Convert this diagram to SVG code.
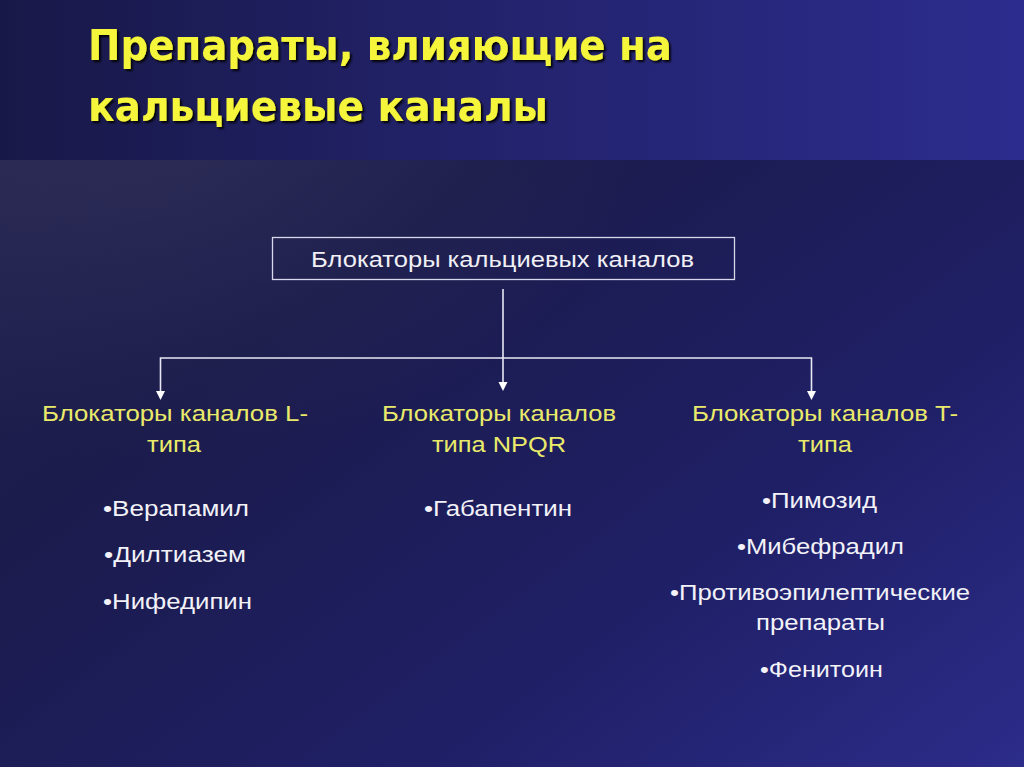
<svg xmlns="http://www.w3.org/2000/svg" width="1024" height="767" viewBox="0 0 1024 767">
<defs>
<linearGradient id="band" x1="0" y1="0" x2="1" y2="0">
<stop offset="0" stop-color="#181848"/>
<stop offset="0.5" stop-color="#23236e"/>
<stop offset="1" stop-color="#2c2c8e"/>
</linearGradient>
<linearGradient id="body" x1="0" y1="0" x2="1" y2="1">
<stop offset="0" stop-color="#262650"/>
<stop offset="0.35" stop-color="#1b1b4c"/>
<stop offset="0.7" stop-color="#1f1f66"/>
<stop offset="1" stop-color="#2c2c8a"/>
</linearGradient>
<radialGradient id="glow" cx="0.15" cy="0.1" r="0.5">
<stop offset="0" stop-color="#3a3a60" stop-opacity="0.5"/>
<stop offset="1" stop-color="#3a3a60" stop-opacity="0"/>
</radialGradient>
<filter id="sh" x="-5%" y="-20%" width="110%" height="140%">
<feDropShadow dx="2" dy="2" stdDeviation="1" flood-color="#000" flood-opacity="0.9"/>
</filter>
</defs>
<style>
.title{font-family:"DejaVu Sans Condensed","DejaVu Sans",sans-serif;font-weight:bold;font-size:43px;fill:#f5f53a;}
.head{font-family:"Liberation Sans",Arial,sans-serif;font-size:22px;fill:#eaea6a;text-anchor:middle;}
.item{font-family:"Liberation Sans",Arial,sans-serif;font-size:22px;fill:#f2f2f8;text-anchor:middle;}
.box{font-family:"Liberation Sans",Arial,sans-serif;font-size:22px;fill:#f0f0f5;text-anchor:middle;}
.ln{stroke:#e8e8f4;stroke-width:1.6;fill:none;}
.ah{fill:#ffffff;}
</style>
<rect x="0" y="0" width="1024" height="767" fill="url(#body)"/>
<rect x="0" y="0" width="1024" height="767" fill="url(#glow)"/>
<rect x="0" y="0" width="1024" height="160" fill="url(#band)"/>
<g id="title" filter="url(#sh)">
<text class="title" x="88" y="60" textLength="584" lengthAdjust="spacingAndGlyphs">Препараты, влияющие на</text>
<text class="title" x="88" y="121" textLength="460" lengthAdjust="spacingAndGlyphs">кальциевые каналы</text>
</g>
<g id="root">
<rect x="272.5" y="237.5" width="462" height="42" fill="none" stroke="#d8d8ec" stroke-width="1.3"/>
<text class="box" x="502.5" y="267" textLength="383" lengthAdjust="spacingAndGlyphs">Блокаторы кальциевых каналов</text>
</g>
<g id="connectors">
<line class="ln" x1="503" y1="289" x2="503" y2="384"/>
<polygon class="ah" points="498.5,382 507.5,382 503,391"/>
<polyline class="ln" points="160.5,393 160.5,358 811.5,358 811.5,393"/>
<polygon class="ah" points="156,391 165,391 160.5,400"/>
<polygon class="ah" points="807,391 816,391 811.5,400"/>
</g>
<g id="l-type">
<text class="head" x="175" y="421" textLength="266" lengthAdjust="spacingAndGlyphs">Блокаторы каналов L-</text>
<text class="head" x="174" y="452" textLength="54" lengthAdjust="spacingAndGlyphs">типа</text>
<text class="item" x="176" y="516" textLength="146" lengthAdjust="spacingAndGlyphs">•Верапамил</text>
<text class="item" x="175" y="562" textLength="142" lengthAdjust="spacingAndGlyphs">•Дилтиазем</text>
<text class="item" x="177.5" y="609" textLength="149" lengthAdjust="spacingAndGlyphs">•Нифедипин</text>
</g>
<g id="npqr-type">
<text class="head" x="499" y="421" textLength="234" lengthAdjust="spacingAndGlyphs">Блокаторы каналов</text>
<text class="head" x="499" y="452" textLength="134" lengthAdjust="spacingAndGlyphs">типа NPQR</text>
<text class="item" x="498" y="516" textLength="148" lengthAdjust="spacingAndGlyphs">•Габапентин</text>
</g>
<g id="t-type">
<text class="head" x="825" y="421" textLength="266" lengthAdjust="spacingAndGlyphs">Блокаторы каналов T-</text>
<text class="head" x="825" y="452" textLength="54" lengthAdjust="spacingAndGlyphs">типа</text>
<text class="item" x="819.5" y="508" textLength="115" lengthAdjust="spacingAndGlyphs">•Пимозид</text>
<text class="item" x="820.5" y="554" textLength="167" lengthAdjust="spacingAndGlyphs">•Мибефрадил</text>
<text class="item" x="820" y="600" textLength="300" lengthAdjust="spacingAndGlyphs">•Противоэпилептические</text>
<text class="item" x="820.5" y="630" textLength="129" lengthAdjust="spacingAndGlyphs">препараты</text>
<text class="item" x="821.5" y="677" textLength="123" lengthAdjust="spacingAndGlyphs">•Фенитоин</text>
</g>
</svg>
